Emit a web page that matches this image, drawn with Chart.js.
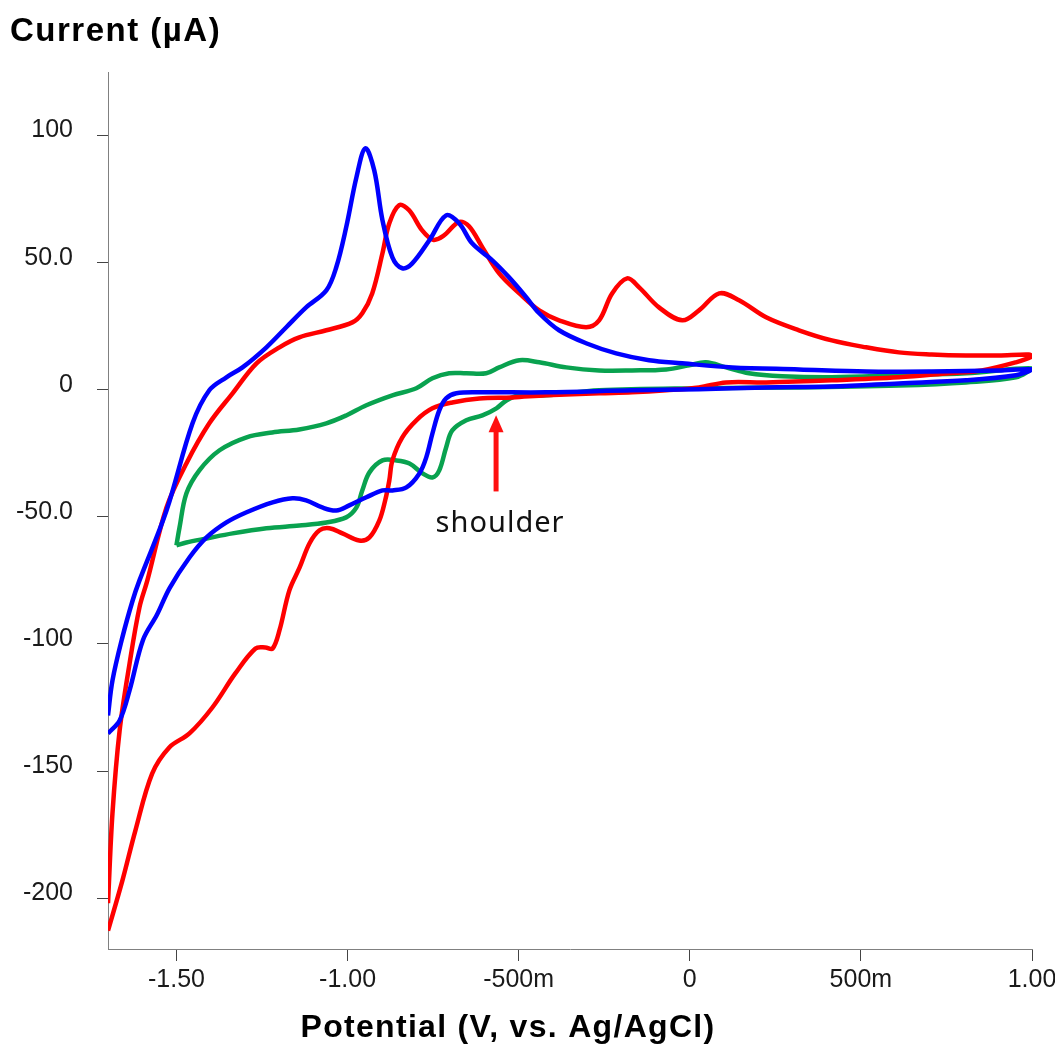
<!DOCTYPE html>
<html>
<head>
<meta charset="utf-8">
<script src="https://cdn.jsdelivr.net/npm/chart.js@4.4.1/dist/chart.umd.min.js"></script>
<style>
html,body{margin:0;padding:0;background:#ffffff;}
#wrap{width:1055px;height:1055px;position:relative;}
</style>
</head>
<body>
<div id="wrap"><canvas id="c" width="1055" height="1055"></canvas></div>
<script>
// ---- axis ticks ----
const xTickValues = [-1.5, -1.0, -0.5, 0, 0.5, 1.0];
const xTickLabels = ['-1.50', '-1.00', '-500m', '0', '500m', '1.00'];
const yTickValues = [-200, -150, -100, -50, 0, 50, 100];
const yTickLabels = ['-200', '-150', '-100', '-50.0', '0', '50.0', '100'];

// ---- titles / annotation ----
const yTitle = 'Current (µA)';
const xTitle = 'Potential (V, vs. Ag/AgCl)';
const annoText = 'shoulder';
const annoV = -0.566;      // potential of the arrow
const annoTipI = -10.0;    // current at arrow tip
const annoTailI = -40.0;   // current at arrow tail

// ---- red trace (potential V, current µA) ----
const redV = [-1.70,-1.687,-1.666,-1.637,-1.608,-1.585,-1.529,-1.471,-1.404,-1.336,-1.266,-1.199,-1.141,-1.062,-0.986,-0.957,-0.928,-0.898,-0.878,-0.849,-0.820,-0.782,-0.750,-0.720,-0.674,-0.645,-0.606,-0.557,-0.498,-0.440,-0.382,-0.303,-0.265,-0.227,-0.183,-0.148,-0.090,-0.022,0.027,0.086,0.144,0.223,0.319,0.415,0.515,0.611,0.707,0.807,0.903,0.991,1.0,
  0.953,0.853,0.757,0.611,0.415,0.223,0.106,0.027,-0.069,-0.169,-0.265,-0.420,-0.519,-0.615,-0.694,-0.752,-0.799,-0.840,-0.869,-0.878,-0.890,-0.907,-0.936,-0.966,-1.015,-1.053,-1.082,-1.111,-1.140,-1.170,-1.199,-1.219,-1.240,-1.269,-1.328,-1.395,-1.462,-1.521,-1.571,-1.620,-1.658,-1.70];
const redI = [-202,-166.7,-134.0,-107.7,-85.6,-75.0,-46.3,-29.0,-13.2,-1.4,10.4,16.7,20.6,23.4,26.5,30.1,37.9,53.7,65.5,72.6,70.6,62.7,59.0,60.5,66.0,64.3,56.0,45.8,37.9,31.2,27.3,24.6,27.3,37.9,43.8,40.3,32.4,27.3,31.2,37.9,35.2,28.5,23.4,19.4,16.7,14.7,13.9,13.5,13.5,13.9,13.1,
  10.8,7.6,6.5,4.9,3.7,2.9,2.9,0.9,-0.2,-1.0,-1.4,-2.2,-3.0,-3.4,-5.0,-7.3,-12.0,-18.7,-27.8,-35.7,-43.5,-51.4,-58.1,-59.3,-56.5,-54.5,-55.3,-60.4,-69.9,-78.9,-94.7,-101.8,-101.4,-101.8,-111.6,-125.0,-135.2,-140.7,-151.0,-173.4,-193.1,-212.8];

// ---- blue trace ----
const blueV = [-1.70,-1.687,-1.658,-1.628,-1.608,-1.529,-1.453,-1.404,-1.354,-1.307,-1.237,-1.179,-1.121,-1.062,-1.033,-1.004,-0.974,-0.948,-0.922,-0.898,-0.869,-0.840,-0.811,-0.761,-0.712,-0.674,-0.636,-0.577,-0.528,-0.478,-0.440,-0.382,-0.303,-0.215,-0.119,-0.022,0.124,0.319,0.515,0.707,0.903,1.0,
  0.953,0.807,0.611,0.415,0.223,0.027,-0.169,-0.420,-0.615,-0.682,-0.712,-0.732,-0.752,-0.770,-0.790,-0.828,-0.869,-0.898,-0.945,-0.995,-1.033,-1.074,-1.121,-1.161,-1.219,-1.295,-1.354,-1.412,-1.462,-1.520,-1.557,-1.598,-1.637,-1.666,-1.70];
const blueI = [-128.1,-114.4,-97.4,-82.9,-75.0,-47.5,-13.2,-0.2,4.9,8.8,16.7,24.6,32.4,39.1,48.2,63.9,83.6,95.0,86.3,66.7,52.1,47.8,49.7,58.8,68.6,65.5,57.6,50.9,44.2,36.4,30.1,23.4,18.3,14.3,11.6,10.4,8.8,8.0,7.2,7.2,7.6,8.0,
  5.7,3.7,2.5,1.3,0.9,0.2,-0.2,-1.0,-1.0,-1.4,-3.4,-8.1,-17.2,-26.6,-32.9,-38.4,-39.6,-39.6,-42.3,-45.5,-47.5,-46.3,-43.5,-42.7,-44.3,-48.2,-52.2,-58.1,-66.0,-78.0,-88.5,-98.5,-118.3,-130.1,-135.2];

// ---- green trace ----
const greenV = [-1.500,-1.491,-1.471,-1.433,-1.374,-1.295,-1.220,-1.141,-1.062,-1.004,-0.945,-0.869,-0.799,-0.752,-0.703,-0.653,-0.595,-0.557,-0.498,-0.440,-0.361,-0.265,-0.169,-0.069,-0.002,0.047,0.106,0.173,0.270,0.415,0.611,0.807,1.0,
  0.953,0.807,0.611,0.319,0.027,-0.265,-0.420,-0.498,-0.536,-0.565,-0.606,-0.653,-0.694,-0.712,-0.732,-0.752,-0.781,-0.819,-0.857,-0.898,-0.936,-0.957,-0.974,-1.004,-1.062,-1.141,-1.237,-1.336,-1.412,-1.471,-1.500];
const greenI = [-61.2,-54.2,-40.8,-31.7,-23.8,-18.7,-16.8,-15.6,-13.2,-10.1,-6.1,-2.2,0.6,4.5,6.5,6.5,6.5,8.8,11.6,10.8,8.8,7.6,7.6,8.0,9.6,10.8,8.8,6.5,5.3,4.9,5.7,6.5,8.4,
  4.9,2.9,1.7,0.9,0.6,-0.2,-2.2,-2.2,-4.2,-7.3,-10.1,-12.0,-16.0,-22.7,-31.7,-34.5,-32.9,-29.0,-27.8,-27.8,-32.5,-39.6,-46.3,-50.2,-52.2,-53.4,-54.5,-56.5,-58.5,-60.1,-61.2];

function pairs(vs, is) { return vs.map((v, k) => ({x: v, y: is[k]})); }
function labelFor(vals, labels, v) {
  const k = vals.findIndex(t => Math.abs(t - v) < 1e-9);
  return k < 0 ? '' : labels[k];
}

const FONT = "'Liberation Sans', Arial, Helvetica, sans-serif";

const extraText = {
  id: 'extraText',
  afterDatasetsDraw(chart) {
    const ctx = chart.ctx, xs = chart.scales.x, ys = chart.scales.y;
    const px = xs.getPixelForValue(annoV);
    const tip = ys.getPixelForValue(annoTipI);
    const tail = ys.getPixelForValue(annoTailI);
    ctx.save();
    ctx.strokeStyle = '#ff1010';
    ctx.fillStyle = '#ff1010';
    ctx.lineWidth = 5;
    ctx.beginPath(); ctx.moveTo(px, tail); ctx.lineTo(px, tip + 15); ctx.stroke();
    ctx.beginPath(); ctx.moveTo(px, tip); ctx.lineTo(px - 7.5, tip + 17); ctx.lineTo(px + 7.5, tip + 17); ctx.closePath(); ctx.fill();
    ctx.fillStyle = '#111111';
    ctx.font = "29px 'Noto Sans', 'Open Sans', sans-serif";
    try { ctx.letterSpacing = '1px'; } catch (e) {}
    ctx.textAlign = 'center';
    ctx.textBaseline = 'alphabetic';
    ctx.fillText(annoText, px + 4, tail + 41);
    ctx.restore();
  },
  afterDraw(chart) {
    const ctx = chart.ctx;
    ctx.save();
    ctx.fillStyle = '#000000';
    ctx.textBaseline = 'alphabetic';
    ctx.font = "bold 33px " + FONT;
    try { ctx.letterSpacing = '1.5px'; } catch (e) {}
    ctx.textAlign = 'left';
    ctx.fillText(yTitle, 10, 41);
    ctx.font = "bold 32px " + FONT;
    try { ctx.letterSpacing = '1.3px'; } catch (e) {}
    ctx.textAlign = 'center';
    ctx.fillText(xTitle, 508, 1037);
    ctx.restore();
  }
};

const ds = (label, vs, is, color) => ({
  label, data: pairs(vs, is), showLine: true, borderColor: color, backgroundColor: color,
  borderWidth: 4.5, pointRadius: 0, pointHoverRadius: 0, tension: 0.35, fill: false
});

new Chart(document.getElementById('c'), {
  type: 'scatter',
  data: {
    datasets: [
      ds('blue', blueV, blueI, '#0000ff'),
      ds('red', redV, redI, '#ff0000'),
      ds('green', greenV, greenI, '#09a24f')
    ]
  },
  options: {
    responsive: false,
    animation: false,
    devicePixelRatio: 1,
    layout: { padding: { left: 0, top: 72, right: 23, bottom: 0 } },
    plugins: { legend: { display: false }, tooltip: { enabled: false }, title: { display: false } },
    scales: {
      x: {
        type: 'linear', min: -1.7, max: 1.0,
        afterBuildTicks: s => { s.ticks = xTickValues.map(v => ({value: v})); },
        afterFit: s => { s.height = 106; s.paddingLeft = 0; s.paddingRight = 0; },
        grid: { display: true, drawOnChartArea: false, drawTicks: true, tickLength: 12, color: '#444444', lineWidth: 1 },
        border: { display: true, color: '#808080', width: 1 },
        ticks: {
          autoSkip: false, maxRotation: 0, minRotation: 0, padding: 4, color: '#1a1a1a',
          font: { family: FONT, size: 25 },
          callback: v => labelFor(xTickValues, xTickLabels, v)
        }
      },
      y: {
        type: 'linear', min: -220, max: 125,
        afterBuildTicks: s => { s.ticks = yTickValues.map(v => ({value: v})); },
        afterFit: s => { s.width = 108; s.paddingTop = 0; s.paddingBottom = 0; },
        grid: { display: true, drawOnChartArea: false, drawTicks: true, tickLength: 11, color: '#444444', lineWidth: 1 },
        border: { display: true, color: '#808080', width: 1 },
        ticks: {
          autoSkip: false, padding: 24, color: '#1a1a1a',
          font: { family: FONT, size: 25, lineHeight: '10px' },
          callback: v => [labelFor(yTickValues, yTickLabels, v), '']
        }
      }
    }
  },
  plugins: [extraText]
});
</script>
</body>
</html>
